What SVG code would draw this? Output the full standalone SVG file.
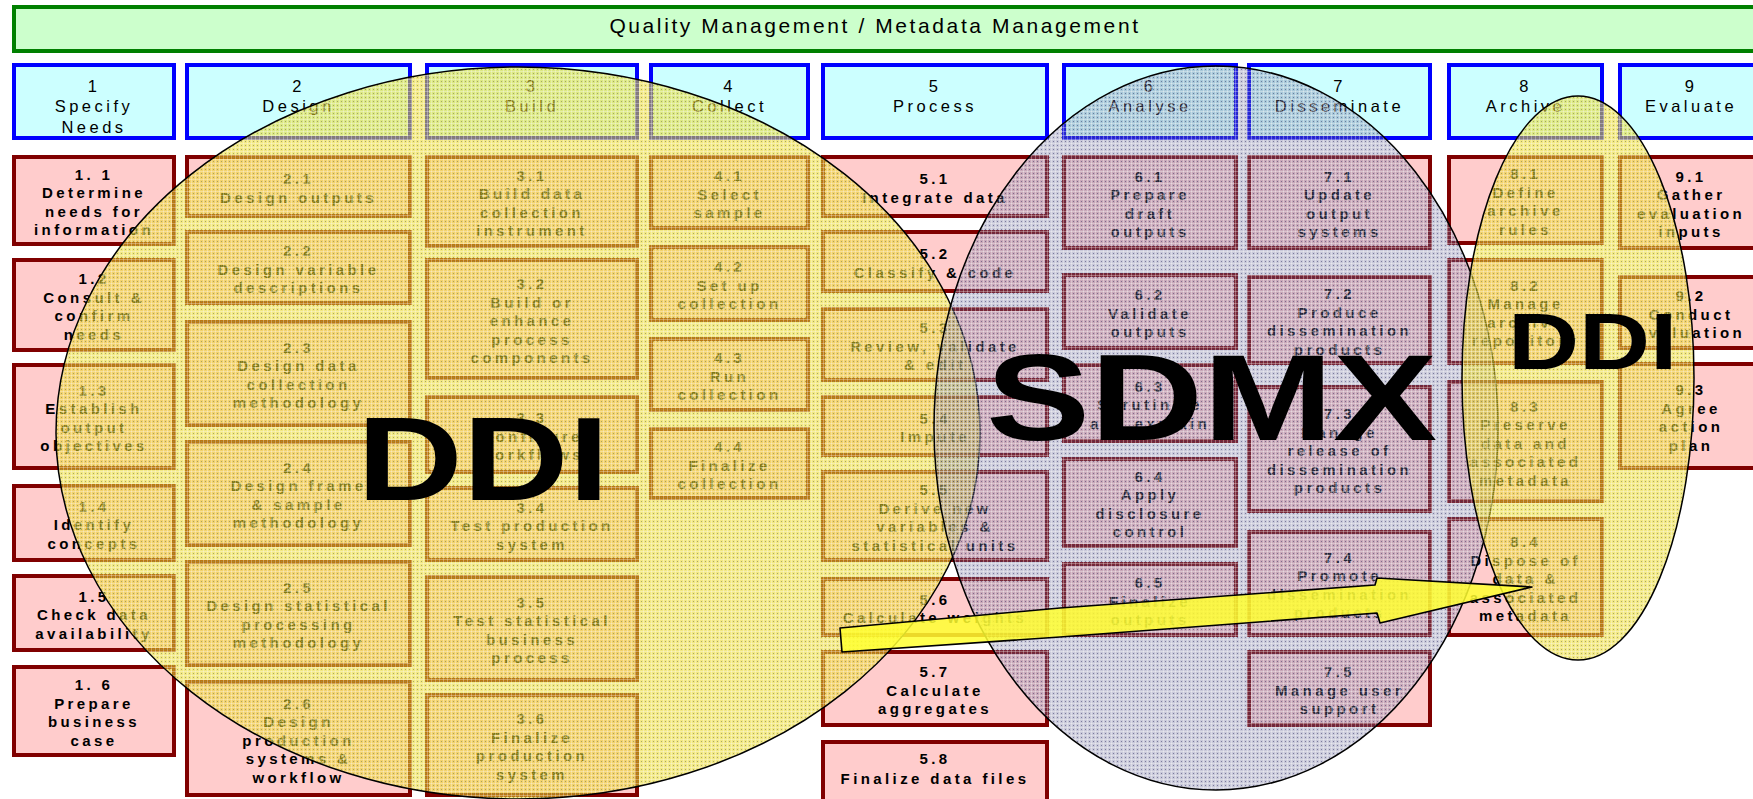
<svg xmlns="http://www.w3.org/2000/svg" width="1753" height="799" viewBox="0 0 1753 799">
  <style>
    .hdr rect { fill: #ccffcc; stroke: #008000; stroke-width: 4; }
    .hdr text { font-family: "Liberation Sans", Arial, sans-serif; font-size: 21px; letter-spacing: 2.6px; text-anchor: middle; fill: #000; }
    .phase rect { fill: #ccffff; stroke: #0000ff; stroke-width: 4; }
    .phase text { font-family: "Liberation Sans", Arial, sans-serif; font-size: 16.5px; letter-spacing: 3.5px; text-anchor: middle; fill: #000; }
    .sub rect { fill: #ffcccc; stroke: #800000; stroke-width: 4; }
    .sub text { font-family: "Liberation Sans", Arial, sans-serif; font-size: 15px; font-weight: bold; letter-spacing: 3.4px; text-anchor: middle; fill: #000; }
    .zone { stroke: #000; stroke-width: 1.5; }
    .big { font-family: "Liberation Sans", Arial, sans-serif; font-weight: bold; fill: #000; }
    .arrow { fill: #ffff30; fill-opacity: 0.85; stroke: #000; stroke-width: 1.6; stroke-linejoin: round; }
  </style>
  <defs>
    <!-- dithered translucent fills for the coverage zones -->
    <pattern id="ddiFill" width="4" height="4" patternUnits="userSpaceOnUse">
      <rect width="4" height="4" fill="#e8d820" fill-opacity="0.56"/>
      <rect x="3" width="1" height="4" fill="#ffffff" fill-opacity="0.3"/>
      <rect y="3" width="4" height="1" fill="#ffffff" fill-opacity="0.3"/>
      <rect x="1" y="1" width="1" height="1" fill="#8a8a60" fill-opacity="0.7"/>
    </pattern>
    <pattern id="sdmxFill" width="4" height="4" patternUnits="userSpaceOnUse">
      <rect width="4" height="4" fill="#6a6a9a" fill-opacity="0.36"/>
      <rect x="3" width="1" height="4" fill="#ffffff" fill-opacity="0.3"/>
      <rect y="3" width="4" height="1" fill="#ffffff" fill-opacity="0.3"/>
      <rect x="1" y="1" width="1" height="1" fill="#303060" fill-opacity="0.5"/>
    </pattern>
  </defs>

  <rect width="1753" height="799" fill="#ffffff"/>

  <!-- overarching process band -->
  <g id="quality-metadata" class="hdr">
    <rect x="14" y="7" width="1760" height="44"/>
    <text x="875" y="33">Quality Management / Metadata Management</text>
  </g>

  <!-- phases -->
  <g id="phase-1" class="phase"><rect x="14" y="65" width="160" height="73"/><text x="94" y="92">1<tspan x="94" y="112">Specify</tspan><tspan x="94" y="133">Needs</tspan></text></g>
  <g id="phase-2" class="phase"><rect x="187" y="65" width="223" height="73"/><text x="298.5" y="92">2<tspan x="298.5" y="112">Design</tspan></text></g>
  <g id="phase-3" class="phase"><rect x="427" y="65" width="210" height="73"/><text x="532" y="92">3<tspan x="532" y="112">Build</tspan></text></g>
  <g id="phase-4" class="phase"><rect x="651" y="65" width="157" height="73"/><text x="729.5" y="92">4<tspan x="729.5" y="112">Collect</tspan></text></g>
  <g id="phase-5" class="phase"><rect x="823" y="65" width="224" height="73"/><text x="935" y="92">5<tspan x="935" y="112">Process</tspan></text></g>
  <g id="phase-6" class="phase"><rect x="1064" y="65" width="172" height="73"/><text x="1150" y="92">6<tspan x="1150" y="112">Analyse</tspan></text></g>
  <g id="phase-7" class="phase"><rect x="1249" y="65" width="181" height="73"/><text x="1339.5" y="92">7<tspan x="1339.5" y="112">Disseminate</tspan></text></g>
  <g id="phase-8" class="phase"><rect x="1449" y="65" width="153" height="73"/><text x="1525.5" y="92">8<tspan x="1525.5" y="112">Archive</tspan></text></g>
  <g id="phase-9" class="phase"><rect x="1620" y="65" width="142" height="73"/><text x="1691" y="92">9<tspan x="1691" y="112">Evaluate</tspan></text></g>

  <!-- sub-processes: column 1 -->
  <g id="sp-1-1" class="sub"><rect x="14" y="157" width="160" height="87"/><text x="94" y="179.75">1. 1<tspan x="94" dy="18.5">Determine</tspan><tspan x="94" dy="18.5">needs for</tspan><tspan x="94" dy="18.5">information</tspan></text></g>
  <g id="sp-1-2" class="sub"><rect x="14" y="260" width="160" height="90"/><text x="94" y="284.25">1.2<tspan x="94" dy="18.5">Consult &amp;</tspan><tspan x="94" dy="18.5">confirm</tspan><tspan x="94" dy="18.5">needs</tspan></text></g>
  <g id="sp-1-3" class="sub"><rect x="14" y="365" width="160" height="103"/><text x="94" y="395.75">1.3<tspan x="94" dy="18.5">Establish</tspan><tspan x="94" dy="18.5">output</tspan><tspan x="94" dy="18.5">objectives</tspan></text></g>
  <g id="sp-1-4" class="sub"><rect x="14" y="486" width="160" height="74"/><text x="94" y="511.5">1.4<tspan x="94" dy="18.5">Identify</tspan><tspan x="94" dy="18.5">concepts</tspan></text></g>
  <g id="sp-1-5" class="sub"><rect x="14" y="576" width="160" height="74"/><text x="94" y="601.5">1.5<tspan x="94" dy="18.5">Check data</tspan><tspan x="94" dy="18.5">availability</tspan></text></g>
  <g id="sp-1-6" class="sub"><rect x="14" y="667" width="160" height="88"/><text x="94" y="690.25">1. 6<tspan x="94" dy="18.5">Prepare</tspan><tspan x="94" dy="18.5">business</tspan><tspan x="94" dy="18.5">case</tspan></text></g>

  <!-- column 2 -->
  <g id="sp-2-1" class="sub"><rect x="187" y="157" width="223" height="59"/><text x="298.5" y="184.25">2.1<tspan x="298.5" dy="18.5">Design outputs</tspan></text></g>
  <g id="sp-2-2" class="sub"><rect x="187" y="232" width="223" height="71"/><text x="298.5" y="256">2.2<tspan x="298.5" dy="18.5">Design variable</tspan><tspan x="298.5" dy="18.5">descriptions</tspan></text></g>
  <g id="sp-2-3" class="sub"><rect x="187" y="322" width="223" height="103"/><text x="298.5" y="352.75">2.3<tspan x="298.5" dy="18.5">Design data</tspan><tspan x="298.5" dy="18.5">collection</tspan><tspan x="298.5" dy="18.5">methodology</tspan></text></g>
  <g id="sp-2-4" class="sub"><rect x="187" y="442" width="223" height="103"/><text x="298.5" y="472.75">2.4<tspan x="298.5" dy="18.5">Design frame</tspan><tspan x="298.5" dy="18.5">&amp; sample</tspan><tspan x="298.5" dy="18.5">methodology</tspan></text></g>
  <g id="sp-2-5" class="sub"><rect x="187" y="562" width="223" height="103"/><text x="298.5" y="592.75">2.5<tspan x="298.5" dy="18.5">Design statistical</tspan><tspan x="298.5" dy="18.5">processing</tspan><tspan x="298.5" dy="18.5">methodology</tspan></text></g>
  <g id="sp-2-6" class="sub"><rect x="187" y="682" width="223" height="113"/><text x="298.5" y="708.5">2.6<tspan x="298.5" dy="18.5">Design</tspan><tspan x="298.5" dy="18.5">production</tspan><tspan x="298.5" dy="18.5">systems &amp;</tspan><tspan x="298.5" dy="18.5">workflow</tspan></text></g>

  <!-- column 3 -->
  <g id="sp-3-1" class="sub"><rect x="427" y="157" width="210" height="89"/><text x="532" y="180.75">3.1<tspan x="532" dy="18.5">Build data</tspan><tspan x="532" dy="18.5">collection</tspan><tspan x="532" dy="18.5">instrument</tspan></text></g>
  <g id="sp-3-2" class="sub"><rect x="427" y="260" width="210" height="118"/><text x="532" y="289">3.2<tspan x="532" dy="18.5">Build or</tspan><tspan x="532" dy="18.5">enhance</tspan><tspan x="532" dy="18.5">process</tspan><tspan x="532" dy="18.5">components</tspan></text></g>
  <g id="sp-3-3" class="sub"><rect x="427" y="397" width="210" height="75"/><text x="532" y="423">3.3<tspan x="532" dy="18.5">Configure</tspan><tspan x="532" dy="18.5">workflows</tspan></text></g>
  <g id="sp-3-4" class="sub"><rect x="427" y="488" width="210" height="72"/><text x="532" y="512.5">3.4<tspan x="532" dy="18.5">Test production</tspan><tspan x="532" dy="18.5">system</tspan></text></g>
  <g id="sp-3-5" class="sub"><rect x="427" y="577" width="210" height="103"/><text x="532" y="607.75">3.5<tspan x="532" dy="18.5">Test statistical</tspan><tspan x="532" dy="18.5">business</tspan><tspan x="532" dy="18.5">process</tspan></text></g>
  <g id="sp-3-6" class="sub"><rect x="427" y="695" width="210" height="100"/><text x="532" y="724.25">3.6<tspan x="532" dy="18.5">Finalize</tspan><tspan x="532" dy="18.5">production</tspan><tspan x="532" dy="18.5">system</tspan></text></g>

  <!-- column 4 -->
  <g id="sp-4-1" class="sub"><rect x="651" y="157" width="157" height="71"/><text x="729.5" y="181">4.1<tspan x="729.5" dy="18.5">Select</tspan><tspan x="729.5" dy="18.5">sample</tspan></text></g>
  <g id="sp-4-2" class="sub"><rect x="651" y="247" width="157" height="73"/><text x="729.5" y="272">4.2<tspan x="729.5" dy="18.5">Set up</tspan><tspan x="729.5" dy="18.5">collection</tspan></text></g>
  <g id="sp-4-3" class="sub"><rect x="651" y="339" width="157" height="71"/><text x="729.5" y="363">4.3<tspan x="729.5" dy="18.5">Run</tspan><tspan x="729.5" dy="18.5">collection</tspan></text></g>
  <g id="sp-4-4" class="sub"><rect x="651" y="429" width="157" height="69"/><text x="729.5" y="452">4.4<tspan x="729.5" dy="18.5">Finalize</tspan><tspan x="729.5" dy="18.5">collection</tspan></text></g>

  <!-- column 5 -->
  <g id="sp-5-1" class="sub"><rect x="823" y="157" width="224" height="59"/><text x="935" y="184.25">5.1<tspan x="935" dy="18.5">Integrate data</tspan></text></g>
  <g id="sp-5-2" class="sub"><rect x="823" y="232" width="224" height="59"/><text x="935" y="259.25">5.2<tspan x="935" dy="18.5">Classify &amp; code</tspan></text></g>
  <g id="sp-5-3" class="sub"><rect x="823" y="309" width="224" height="71"/><text x="935" y="333">5.3<tspan x="935" dy="18.5">Review, validate</tspan><tspan x="935" dy="18.5">&amp; edit</tspan></text></g>
  <g id="sp-5-4" class="sub"><rect x="823" y="397" width="224" height="58"/><text x="935" y="423.75">5.4<tspan x="935" dy="18.5">Impute</tspan></text></g>
  <g id="sp-5-5" class="sub"><rect x="823" y="472" width="224" height="88"/><text x="935" y="495.25">5.5<tspan x="935" dy="18.5">Derive new</tspan><tspan x="935" dy="18.5">variables &amp;</tspan><tspan x="935" dy="18.5">statistical units</tspan></text></g>
  <g id="sp-5-6" class="sub"><rect x="823" y="579" width="224" height="56"/><text x="935" y="604.75">5.6<tspan x="935" dy="18.5">Calculate weights</tspan></text></g>
  <g id="sp-5-7" class="sub"><rect x="823" y="652" width="224" height="73"/><text x="935" y="677">5.7<tspan x="935" dy="18.5">Calculate</tspan><tspan x="935" dy="18.5">aggregates</tspan></text></g>
  <g id="sp-5-8" class="sub"><rect x="823" y="742" width="224" height="60"/><text x="935" y="764">5.8<tspan x="935" dy="19.5">Finalize data files</tspan></text></g>

  <!-- column 6 -->
  <g id="sp-6-1" class="sub"><rect x="1064" y="157" width="172" height="91"/><text x="1150" y="181.75">6.1<tspan x="1150" dy="18.5">Prepare</tspan><tspan x="1150" dy="18.5">draft</tspan><tspan x="1150" dy="18.5">outputs</tspan></text></g>
  <g id="sp-6-2" class="sub"><rect x="1064" y="275" width="172" height="73"/><text x="1150" y="300">6.2<tspan x="1150" dy="18.5">Validate</tspan><tspan x="1150" dy="18.5">outputs</tspan></text></g>
  <g id="sp-6-3" class="sub"><rect x="1064" y="365" width="172" height="76"/><text x="1150" y="391.5">6.3<tspan x="1150" dy="18.5">Scrutinize</tspan><tspan x="1150" dy="18.5">and explain</tspan></text></g>
  <g id="sp-6-4" class="sub"><rect x="1064" y="459" width="172" height="87"/><text x="1150" y="481.75">6.4<tspan x="1150" dy="18.5">Apply</tspan><tspan x="1150" dy="18.5">disclosure</tspan><tspan x="1150" dy="18.5">control</tspan></text></g>
  <g id="sp-6-5" class="sub"><rect x="1064" y="564" width="172" height="71"/><text x="1150" y="588">6.5<tspan x="1150" dy="18.5">Finalize</tspan><tspan x="1150" dy="18.5">outputs</tspan></text></g>

  <!-- column 7 -->
  <g id="sp-7-1" class="sub"><rect x="1249" y="157" width="181" height="91"/><text x="1339.5" y="181.75">7.1<tspan x="1339.5" dy="18.5">Update</tspan><tspan x="1339.5" dy="18.5">output</tspan><tspan x="1339.5" dy="18.5">systems</tspan></text></g>
  <g id="sp-7-2" class="sub"><rect x="1249" y="277" width="181" height="86"/><text x="1339.5" y="299.25">7.2<tspan x="1339.5" dy="18.5">Produce</tspan><tspan x="1339.5" dy="18.5">dissemination</tspan><tspan x="1339.5" dy="18.5">products</tspan></text></g>
  <g id="sp-7-3" class="sub"><rect x="1249" y="387" width="181" height="124"/><text x="1339.5" y="419">7.3<tspan x="1339.5" dy="18.5">Manage</tspan><tspan x="1339.5" dy="18.5">release of</tspan><tspan x="1339.5" dy="18.5">dissemination</tspan><tspan x="1339.5" dy="18.5">products</tspan></text></g>
  <g id="sp-7-4" class="sub"><rect x="1249" y="532" width="181" height="103"/><text x="1339.5" y="562.75">7.4<tspan x="1339.5" dy="18.5">Promote</tspan><tspan x="1339.5" dy="18.5">dissemination</tspan><tspan x="1339.5" dy="18.5">products</tspan></text></g>
  <g id="sp-7-5" class="sub"><rect x="1249" y="652" width="181" height="73"/><text x="1339.5" y="677">7.5<tspan x="1339.5" dy="18.5">Manage user</tspan><tspan x="1339.5" dy="18.5">support</tspan></text></g>

  <!-- column 8 -->
  <g id="sp-8-1" class="sub"><rect x="1449" y="157" width="153" height="86"/><text x="1525.5" y="179.25">8.1<tspan x="1525.5" dy="18.5">Define</tspan><tspan x="1525.5" dy="18.5">archive</tspan><tspan x="1525.5" dy="18.5">rules</tspan></text></g>
  <g id="sp-8-2" class="sub"><rect x="1449" y="260" width="153" height="103"/><text x="1525.5" y="290.75">8.2<tspan x="1525.5" dy="18.5">Manage</tspan><tspan x="1525.5" dy="18.5">archive</tspan><tspan x="1525.5" dy="18.5">repository</tspan></text></g>
  <g id="sp-8-3" class="sub"><rect x="1449" y="382" width="153" height="119"/><text x="1525.5" y="411.5">8.3<tspan x="1525.5" dy="18.5">Preserve</tspan><tspan x="1525.5" dy="18.5">data and</tspan><tspan x="1525.5" dy="18.5">associated</tspan><tspan x="1525.5" dy="18.5">metadata</tspan></text></g>
  <g id="sp-8-4" class="sub"><rect x="1449" y="519" width="153" height="116"/><text x="1525.5" y="547">8.4<tspan x="1525.5" dy="18.5">Dispose of</tspan><tspan x="1525.5" dy="18.5">data &amp;</tspan><tspan x="1525.5" dy="18.5">associated</tspan><tspan x="1525.5" dy="18.5">metadata</tspan></text></g>

  <!-- column 9 -->
  <g id="sp-9-1" class="sub"><rect x="1620" y="157" width="142" height="91"/><text x="1691" y="181.75">9.1<tspan x="1691" dy="18.5">Gather</tspan><tspan x="1691" dy="18.5">evaluation</tspan><tspan x="1691" dy="18.5">inputs</tspan></text></g>
  <g id="sp-9-2" class="sub"><rect x="1620" y="277" width="142" height="71"/><text x="1691" y="301">9.2<tspan x="1691" dy="18.5">Conduct</tspan><tspan x="1691" dy="18.5">evaluation</tspan></text></g>
  <g id="sp-9-3" class="sub"><rect x="1620" y="364" width="142" height="104"/><text x="1691" y="395.25">9.3<tspan x="1691" dy="18.5">Agree</tspan><tspan x="1691" dy="18.5">action</tspan><tspan x="1691" dy="18.5">plan</tspan></text></g>

  <!-- standard coverage zones -->
  <g id="ddi-zone">
    <ellipse class="zone" cx="518" cy="433" rx="462" ry="366" fill="url(#ddiFill)"/>
    <text class="big" font-size="119" transform="translate(357 500) scale(1.23 1)">DDI</text>
  </g>
  <g id="sdmx-zone">
    <ellipse class="zone" cx="1216" cy="428" rx="282" ry="362" fill="url(#sdmxFill)"/>
    <text class="big" font-size="123" transform="translate(986 440) scale(1.27 1)">SDMX</text>
  </g>
  <g id="ddi-archive-zone">
    <ellipse class="zone" cx="1578" cy="378" rx="116" ry="282" fill="url(#ddiFill)"/>
    <text class="big" font-size="80" transform="translate(1508 369) scale(1.23 1)">DDI</text>
  </g>

  <!-- connectors -->
  <g id="connectors">
    <polygon class="arrow" points="840,628 1060,608 1375,585 1377,578 1532,587 1380,623 1377,613 1060,637 842,652"/>
  </g>
</svg>
